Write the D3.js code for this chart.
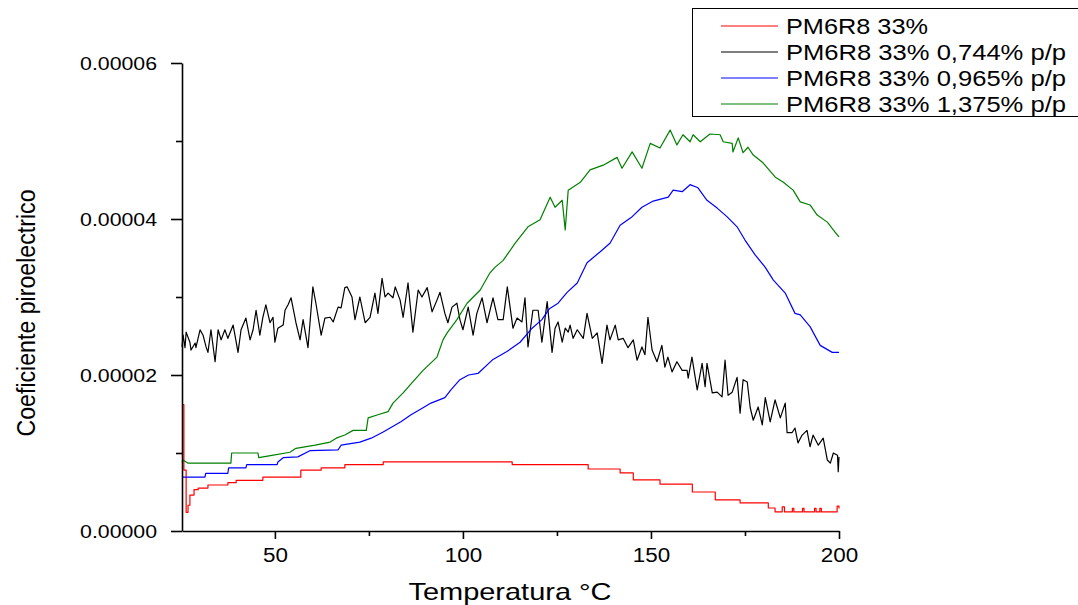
<!DOCTYPE html>
<html><head><meta charset="utf-8">
<script src="https://cdn.jsdelivr.net/npm/d3@7"></script>
<style>
body{margin:0;background:#fff;}
svg{display:block;font-family:Arial,"Liberation Sans",sans-serif;}
</style>
</head><body>
<svg id="chart" width="1078" height="605"></svg>
<script>
// ---------------- data ----------------
const seriesNames = ["PM6R8 33%", "PM6R8 33% 0,744% p/p", "PM6R8 33% 0,965% p/p", "PM6R8 33% 1,375% p/p"];
const xTickValues = [50, 100, 150, 200];
const xMinorTicks = [75, 125, 175];
const yTickValues = [0, 0.00002, 0.00004, 0.00006];
const yMinorTicks = [0.00001, 0.00003, 0.00005];
const xLabel = "Temperatura °C";
const yLabel = "Coeficiente piroelectrico";
const UNIT = 1e-5; // series values below are in units of 1e-5

// [temperature °C, coefficient ×1e-5]
const redSeries = [[25.3,1.62],[25.8,0.78],[26.4,0.24],[26.9,0.33],[27.4,0.46],[28.5,0.53],[29.6,0.55],[32.2,0.59],[37.5,0.62],[39.7,0.65],[46.8,0.69],[56.9,0.78],[62.3,0.81],[68.6,0.85],[78.8,0.885],[113.1,0.85],[133.3,0.795],[141.8,0.745],[145.3,0.655],[152.4,0.60],[161.0,0.50],[167.1,0.40],[173.7,0.36],[181.2,0.295],[183.0,0.245],[184.9,0.31],[185.5,0.245],[187.6,0.29],[188.0,0.245],[190.3,0.29],[190.7,0.245],[193.5,0.29],[193.9,0.245],[194.9,0.29],[195.3,0.245],[199.5,0.32],[200,0.29]];

const blackSeries = [[25.3,2.36],[25.6,2.51],[26.1,2.35],[26.4,2.55],[27.4,2.42],[27.7,2.32],[28.8,2.41],[29.0,2.35],[30.1,2.58],[30.9,2.51],[31.7,2.36],[32.2,2.29],[33.0,2.58],[34.1,2.17],[34.9,2.58],[35.7,2.45],[36.7,2.58],[37.5,2.47],[38.9,2.64],[40.2,2.29],[41.0,2.58],[42.3,2.73],[43.4,2.45],[44.2,2.58],[45.0,2.83],[46.0,2.51],[46.8,2.74],[47.6,2.90],[48.7,2.67],[49.5,2.74],[50.0,2.42],[50.8,2.60],[52.2,2.64],[52.7,2.83],[53.5,2.90],[54.3,2.99],[55.6,2.67],[56.7,2.45],[57.5,2.71],[58.8,2.35],[60.1,3.13],[60.9,2.92],[62.3,2.51],[63.3,2.73],[64.7,2.74],[65.5,2.68],[66.8,2.87],[67.6,2.86],[68.6,3.12],[69.2,3.13],[70.5,3.00],[71.3,2.71],[72.6,3.00],[74.0,2.67],[75.3,2.74],[76.6,3.05],[77.4,2.79],[78.5,3.24],[79.3,3.00],[80.1,3.05],[81.4,2.99],[82.0,3.13],[83.3,2.96],[84.1,2.74],[85.4,3.18],[86.7,2.55],[88.1,3.09],[89.1,3.00],[90.5,3.12],[91.8,2.81],[93.1,2.96],[93.9,3.06],[95.2,2.79],[96.0,2.67],[97.1,2.87],[98.4,2.92],[99.2,2.71],[100.0,2.58],[101.4,2.87],[102.7,2.51],[103.7,2.79],[105.1,2.99],[106.4,2.67],[108.0,2.99],[109.3,2.71],[110.7,2.71],[111.8,3.13],[113.3,2.60],[114.4,2.73],[115.7,2.68],[116.5,2.99],[117.3,2.36],[118.6,2.83],[120.0,2.83],[121.0,2.42],[122.4,2.94],[123.7,2.29],[124.5,2.60],[125.3,2.68],[126.4,2.42],[127.2,2.60],[128.0,2.55],[128.5,2.64],[129.3,2.47],[130.4,2.58],[132.0,2.47],[133.0,2.79],[134.4,2.47],[135.7,2.54],[137.0,2.15],[138.3,2.64],[139.1,2.45],[140.5,2.64],[141.3,2.45],[142.6,2.47],[143.9,2.35],[145.3,2.45],[146.3,2.19],[147.6,2.36],[148.4,2.26],[149.2,2.74],[150.3,2.32],[151.6,2.17],[152.9,2.38],[153.7,2.10],[154.5,2.23],[155.6,2.04],[156.9,2.17],[158.3,2.06],[159.6,2.06],[159.9,1.96],[160.9,2.23],[162.3,1.81],[163.6,2.15],[164.4,1.85],[164.9,2.15],[166.3,1.77],[167.6,1.78],[168.9,1.72],[169.7,2.19],[170.5,1.74],[171.6,1.78],[172.9,1.97],[173.7,1.51],[174.5,1.94],[175.6,1.91],[176.4,1.58],[177.2,1.42],[178.5,1.59],[179.6,1.36],[180.4,1.71],[181.7,1.40],[183.0,1.68],[184.4,1.45],[185.7,1.64],[186.2,1.26],[187.5,1.26],[188.3,1.32],[189.1,1.13],[190.2,1.23],[191.5,1.29],[192.3,1.08],[193.1,1.23],[194.5,1.10],[195.8,1.19],[196.9,0.91],[197.7,0.87],[198.5,1.00],[199.6,0.97],[199.8,0.76],[200.0,0.95]];

const blueSeries = [[25.3,0.69],[31.4,0.69],[31.6,0.74],[37.5,0.74],[37.7,0.81],[42.3,0.81],[42.5,0.85],[50.6,0.85],[50.8,0.885],[52.2,0.94],[56.1,0.95],[59.3,1.03],[66.8,1.04],[67.6,1.10],[72.6,1.14],[75.6,1.19],[78.8,1.27],[83.5,1.40],[86.2,1.49],[89.4,1.58],[91.5,1.64],[95.2,1.71],[96.8,1.81],[99.2,1.94],[101.5,2.00],[104.0,2.02],[108.0,2.20],[111.7,2.30],[115.2,2.42],[118.4,2.60],[121.0,2.71],[123.0,2.85],[125.3,2.92],[127.7,3.06],[130.4,3.18],[133.0,3.44],[136.5,3.58],[139.1,3.69],[141.8,3.92],[145.0,4.03],[147.6,4.15],[150.6,4.23],[154.6,4.28],[155.9,4.37],[158.3,4.35],[160.4,4.44],[162.5,4.40],[164.9,4.24],[167.6,4.14],[170.2,4.03],[172.9,3.90],[175.0,3.73],[177.7,3.54],[180.4,3.38],[182.5,3.22],[185.7,3.05],[188.3,2.79],[189.7,2.77],[192.3,2.62],[195.0,2.38],[198.2,2.29],[200,2.29]];

const greenSeries = [[25.3,0.88],[25.6,0.91],[26.9,0.87],[38.3,0.87],[38.5,1.00],[45.5,1.00],[45.7,0.94],[49.2,0.97],[54.0,1.01],[55.6,1.06],[60.7,1.10],[64.7,1.14],[66.3,1.19],[68.6,1.23],[70.8,1.29],[74.3,1.29],[74.8,1.45],[77.4,1.49],[80.1,1.53],[81.4,1.64],[84.1,1.77],[85.9,1.87],[89.4,2.06],[93.1,2.23],[94.7,2.45],[95.8,2.54],[98.4,2.71],[101.1,2.92],[104.6,3.09],[107.2,3.31],[108.5,3.38],[110.7,3.47],[113.9,3.69],[117.3,3.90],[120.5,3.99],[123.2,4.28],[124.5,4.15],[126.4,4.24],[127.2,3.86],[128.0,4.37],[131.2,4.47],[133.8,4.63],[137.3,4.69],[141.0,4.79],[142.3,4.65],[145.0,4.86],[147.6,4.65],[149.8,4.97],[152.4,4.91],[155.1,5.14],[156.9,4.95],[158.5,5.08],[160.4,4.99],[161.2,5.08],[163.1,4.99],[165.7,5.09],[168.4,5.08],[169.2,4.99],[171.6,4.97],[171.8,4.86],[173.2,5.04],[174.5,4.85],[175.8,4.92],[177.2,4.82],[179.8,4.72],[183.0,4.54],[185.2,4.47],[187.8,4.37],[189.7,4.22],[192.3,4.18],[194.2,4.05],[196.9,3.96],[199.0,3.83],[200,3.77]];

// ---------------- chart ----------------
const svg = d3.select("#chart");
const x = d3.scaleLinear().domain([25.3, 200]).range([182, 839]);
const y = d3.scaleLinear().domain([0, 0.00006]).range([531, 63]);

function stretch(sel, factor) {
  sel.each(function () {
    const w = this.getComputedTextLength();
    d3.select(this).attr("textLength", w * factor).attr("lengthAdjust", "spacingAndGlyphs");
  });
}

const series = [
  {name: seriesNames[0], data: redSeries, color: "#ff0000", curve: d3.curveStepAfter},
  {name: seriesNames[1], data: blackSeries, color: "#000000", curve: d3.curveLinear},
  {name: seriesNames[2], data: blueSeries, color: "#0000ff", curve: d3.curveLinear},
  {name: seriesNames[3], data: greenSeries, color: "#008000", curve: d3.curveLinear}
];

const plot = svg.append("g");
series.forEach(s => {
  const line = d3.line().x(d => x(d[0])).y(d => y(d[1] * UNIT)).curve(s.curve);
  plot.append("path").datum(s.data).attr("d", line)
    .attr("fill", "none").attr("stroke", s.color).attr("stroke-width", 1.2)
    .attr("stroke-linejoin", "round");
});

// X axis
const gx = svg.append("g").attr("transform", "translate(0,531)")
  .call(d3.axisBottom(x).tickValues(xTickValues).tickSize(8).tickSizeOuter(0).tickFormat(d3.format("d")));
svg.append("g").attr("transform", "translate(0,531)")
  .call(d3.axisBottom(x).tickValues(xMinorTicks).tickSize(5).tickSizeOuter(0).tickFormat(""))
  .select(".domain").remove();
// Y axis
const gy = svg.append("g").attr("transform", "translate(182,0)")
  .call(d3.axisLeft(y).tickValues(yTickValues).tickSize(11).tickSizeOuter(0).tickFormat(d3.format(".5f")));
svg.append("g").attr("transform", "translate(182,0)")
  .call(d3.axisLeft(y).tickValues(yMinorTicks).tickSize(6).tickSizeOuter(0).tickFormat(""))
  .select(".domain").remove();

svg.selectAll(".domain, .tick line").attr("stroke", "#000").attr("stroke-width", 1.6);

gx.selectAll("text").attr("y", 31).attr("dy", 0)
  .attr("font-size", 20).attr("font-family", "Arial, 'Liberation Sans', sans-serif").attr("fill", "#000");
gy.selectAll("text").attr("x", -25).attr("dy", "0.36em")
  .attr("font-size", 19).attr("font-family", "Arial, 'Liberation Sans', sans-serif").attr("fill", "#000");
stretch(gx.selectAll("text"), 1.12);
stretch(gy.selectAll("text"), 1.12);

// Axis titles
svg.append("text").attr("x", 510).attr("y", 600).attr("text-anchor", "middle")
  .attr("font-size", 24).attr("fill", "#000").text(xLabel)
  .attr("textLength", 203).attr("lengthAdjust", "spacingAndGlyphs");
svg.append("g").attr("transform", "translate(35,313) scale(1.15,1) rotate(-90)")
  .append("text").attr("text-anchor", "middle").attr("font-size", 22).attr("fill", "#000")
  .text(yLabel).attr("textLength", 247).attr("lengthAdjust", "spacingAndGlyphs");

// Legend
const legend = svg.append("g");
legend.append("rect").attr("x", 692.5).attr("y", 8.5).attr("width", 400).attr("height", 108)
  .attr("fill", "#fff").attr("stroke", "#000").attr("stroke-width", 1);
const legendWidths = [142, 280, 280, 280];
series.forEach((s, i) => {
  const cy = 26 + i * 26;
  legend.append("line").attr("x1", 721).attr("x2", 778).attr("y1", cy).attr("y2", cy)
    .attr("stroke", s.color).attr("stroke-width", 1.2);
  legend.append("text").attr("x", 786).attr("y", cy + 8).attr("font-size", 21.5).attr("fill", "#000")
    .text(s.name).attr("textLength", legendWidths[i]).attr("lengthAdjust", "spacingAndGlyphs");
});
</script>
</body></html>
